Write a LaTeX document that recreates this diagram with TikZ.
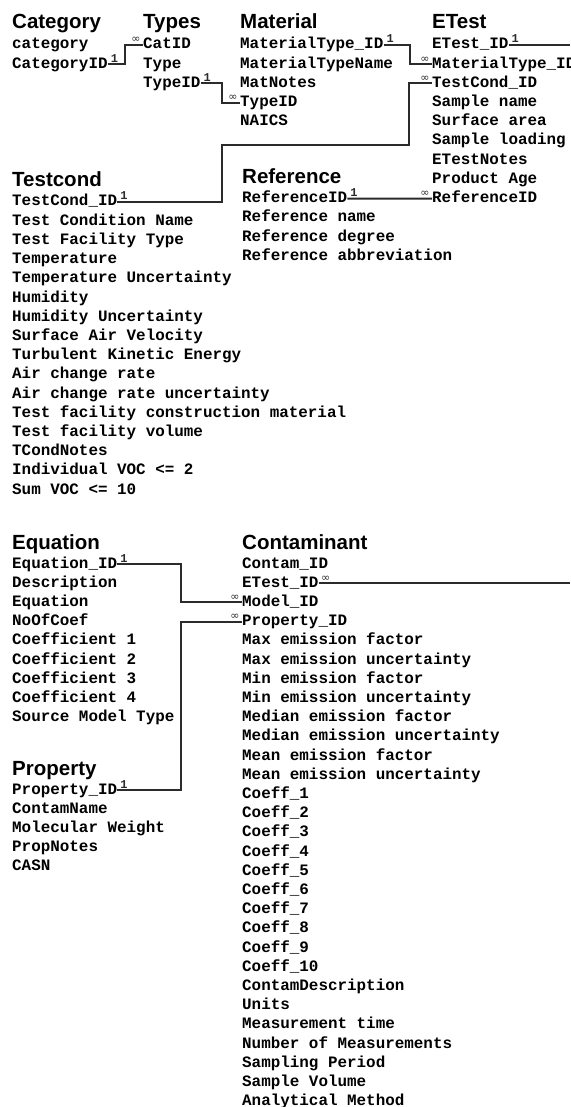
\documentclass[tikz,border=0pt]{standalone}
\usepackage{fontspec}
\setmainfont{Liberation Sans}
\setmonofont{Liberation Mono}
\newfontfamily\erSym{DejaVu Sans}
\usepackage{tikz}
\usetikzlibrary{calc}
\definecolor{erLine}{HTML}{2B2B2B}
\tikzset{
  tblhead/.style={anchor=base west, inner sep=0pt, font=\fontsize{20.5}{24}\selectfont\bfseries},
  field/.style={anchor=west, inner sep=0pt, text height=11pt, text depth=3pt,
    font=\fontsize{15.9}{19}\selectfont\ttfamily\bfseries},
  rel/.style={line width=2pt, erLine},
  one/.style={anchor=south west, inner sep=1pt, xshift=1pt,
    font=\fontsize{12}{13}\selectfont\ttfamily\bfseries, text=erLine},
  many/.style={anchor=south east, inner sep=1pt, xshift=-0.5pt,
    font=\fontsize{11}{12}\selectfont\erSym, text=erLine},
  manyout/.style={many, anchor=south west, xshift=1pt}
}

\begin{document}
\begin{tikzpicture}[x=1pt, y=-1pt]
  \useasboundingbox (0,0) rectangle (570,1107);

  % top row of tables
  \node[tblhead] (cath) at (12,29) {Category};
  \foreach \f [count=\i from 0] in {category, CategoryID}
    \node[field] (cat\i) at (12,{45+19.2*\i}) {\f};

  \node[tblhead] (typh) at (143,29) {Types};
  \foreach \f [count=\i from 0] in {CatID, Type, TypeID}
    \node[field] (typ\i) at (143,{45+19.2*\i}) {\f};

  \node[tblhead] (math) at (240,29) {Material};
  \foreach \f [count=\i from 0] in {MaterialType\_ID, MaterialTypeName, MatNotes, TypeID, NAICS}
    \node[field] (mat\i) at (240,{45+19.2*\i}) {\f};

  \node[tblhead] (eth) at (432,29) {ETest};
  \foreach \f [count=\i from 0] in {ETest\_ID, MaterialType\_ID, TestCond\_ID, Sample name,
      Surface area, Sample loading, ETestNotes, Product Age, ReferenceID}
    \node[field] (et\i) at (432,{45+19.2*\i}) {\f};

  % middle
  \node[tblhead] (tch) at (12,187) {Testcond};
  \foreach \f [count=\i from 0] in {TestCond\_ID, Test Condition Name, Test Facility Type,
      Temperature, Temperature Uncertainty, Humidity, Humidity Uncertainty,
      Surface Air Velocity, Turbulent Kinetic Energy, Air change rate,
      Air change rate uncertainty, Test facility construction material,
      Test facility volume, TCondNotes, Individual VOC <= 2, Sum VOC <= 10}
    \node[field] (tc\i) at (12,{202+19.2*\i}) {\f};

  \node[tblhead] (refh) at (242,184) {Reference};
  \foreach \f [count=\i from 0] in {ReferenceID, Reference name, Reference degree,
      Reference abbreviation}
    \node[field] (ref\i) at (242,{198.6+19.2*\i}) {\f};

  % lower half
  \node[tblhead] (eqh) at (12,549) {Equation};
  \foreach \f [count=\i from 0] in {Equation\_ID, Description, Equation, NoOfCoef,
      Coefficient 1, Coefficient 2, Coefficient 3, Coefficient 4, Source Model Type}
    \node[field] (eq\i) at (12,{564+19.2*\i}) {\f};

  \node[tblhead] (proph) at (12,775) {Property};
  \foreach \f [count=\i from 0] in {Property\_ID, ContamName, Molecular Weight,
      PropNotes, CASN}
    \node[field] (prop\i) at (12,{790+19.2*\i}) {\f};

  \node[tblhead] (conh) at (242,549) {Contaminant};
  \foreach \f [count=\i from 0] in {Contam\_ID, ETest\_ID, Model\_ID, Property\_ID,
      Max emission factor, Max emission uncertainty, Min emission factor,
      Min emission uncertainty, Median emission factor, Median emission uncertainty,
      Mean emission factor, Mean emission uncertainty, Coeff\_1, Coeff\_2, Coeff\_3,
      Coeff\_4, Coeff\_5, Coeff\_6, Coeff\_7, Coeff\_8, Coeff\_9, Coeff\_10,
      ContamDescription, Units, Measurement time, Number of Measurements,
      Sampling Period, Sample Volume, Analytical Method}
    \node[field] (con\i) at (242,{564+19.2*\i}) {\f};

  % relations
  \coordinate (rim) at (570,0);
  \coordinate (tcbend) at (222,145);
  \coordinate (etbend) at (409,145);
  \draw[rel] (cat1.east) node[one] {1} -- ++(17,0) |- (typ0.west) node[many] {∞};
  \draw[rel] (typ2.east) node[one] {1} -- ++(21,0) |- (mat3.west) node[many] {∞};
  \draw[rel] (mat0.east) node[one] {1} -- ++(26,0) |- (et1.west) node[many] {∞};
  \draw[rel] (tc0.east) node[one] {1} -| (tcbend) -- (etbend) |- (et2.west) node[many] {∞};
  \draw[rel] (ref0.east) node[one] {1} -- (et8.west) node[many] {∞};
  \draw[rel] (et0.east) node[one] {1} -- (et0.east -| rim);
  \draw[rel] (con1.east) node[manyout] {∞} -- (con1.east -| rim);
  \draw[rel] (eq0.east) node[one] {1} -- ++(64,0) |- (con2.west) node[many] {∞};
  \draw[rel] (prop0.east) node[one] {1} -- ++(64,0) |- (con3.west) node[many] {∞};
\end{tikzpicture}
\end{document}
